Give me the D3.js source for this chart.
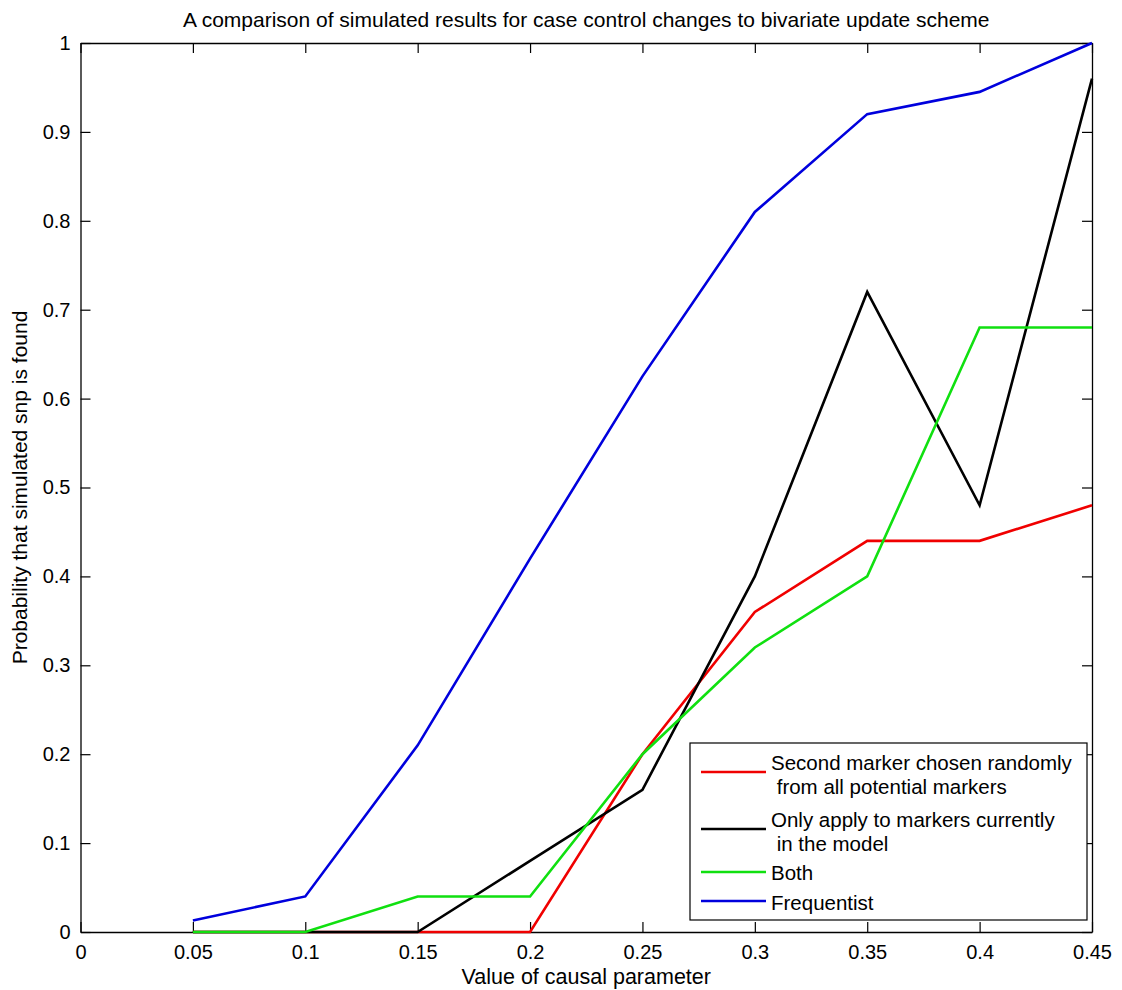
<!DOCTYPE html>
<html>
<head>
<meta charset="utf-8">
<script src="https://cdn.jsdelivr.net/npm/d3@7"></script>
<style>
  html, body { margin: 0; padding: 0; background: #fff; }
  svg { display: block; }
  text { font-family: "Liberation Sans", Arial, Helvetica, sans-serif; fill: #000; }
</style>
</head>
<body>
<script>
// Causal parameter values (x) and detection probabilities per method
const xValues = [0.05, 0.1, 0.15, 0.2, 0.25, 0.3, 0.35, 0.4, 0.45];
const secondMarkerRandom = [0, 0, 0, 0, 0.2, 0.36, 0.44, 0.44, 0.48];
const onlyCurrentMarkers = [0, 0, 0, 0.08, 0.16, 0.4, 0.72, 0.48, 0.96];
const bothChanges = [0, 0, 0.04, 0.04, 0.2, 0.32, 0.4, 0.68, 0.68];
const frequentist = [0.013, 0.04, 0.21, 0.42, 0.625, 0.81, 0.92, 0.945, 1.0];

const seriesNames = [
  ["Second marker chosen randomly", " from all potential markers"],
  ["Only apply to markers currently", " in the model"],
  ["Both"],
  ["Frequentist"]
];
const seriesColors = ["#f00000", "#000000", "#10e010", "#0000dd"];
const seriesValues = [secondMarkerRandom, onlyCurrentMarkers, bothChanges, frequentist];

const xTicks = [0, 0.05, 0.1, 0.15, 0.2, 0.25, 0.3, 0.35, 0.4, 0.45];
const yTicks = [0, 0.1, 0.2, 0.3, 0.4, 0.5, 0.6, 0.7, 0.8, 0.9, 1];

const titleText = "A comparison of simulated results for case control changes to bivariate update scheme";
const xLabelText = "Value of causal parameter";
const yLabelText = "Probability that simulated snp is found";

const W = 1122, H = 990;
const plot = { left: 80.5, right: 1092, top: 43, bottom: 932 };

const svg = d3.select("body").append("svg").attr("width", W).attr("height", H);

const x = d3.scaleLinear().domain([0, 0.45]).range([plot.left, plot.right]);
const y = d3.scaleLinear().domain([0, 1]).range([plot.bottom, plot.top]);

const fmt = d => String(+d.toFixed(2));

// Axes: inward ticks on all four sides, boxed
const tickLen = 10;
const gx = svg.append("g").attr("transform", `translate(0,${plot.bottom})`)
  .call(d3.axisBottom(x).tickValues(xTicks).tickFormat(fmt).tickSizeInner(-tickLen).tickSizeOuter(0).tickPadding(13));
const gxTop = svg.append("g").attr("transform", `translate(0,${plot.top})`)
  .call(d3.axisTop(x).tickValues(xTicks).tickFormat("").tickSizeInner(-tickLen).tickSizeOuter(0));
const gy = svg.append("g").attr("transform", `translate(${plot.left},0)`)
  .call(d3.axisLeft(y).tickValues(yTicks).tickFormat(fmt).tickSizeInner(-tickLen).tickSizeOuter(0).tickPadding(10));
const gyRight = svg.append("g").attr("transform", `translate(${plot.right},0)`)
  .call(d3.axisRight(y).tickValues(yTicks).tickFormat("").tickSizeInner(-tickLen).tickSizeOuter(0));

[gx, gxTop, gy, gyRight].forEach(g => {
  g.select(".domain").attr("stroke", "#000").attr("stroke-width", 1.3);
  g.selectAll(".tick line").attr("stroke", "#000").attr("stroke-width", 1.2);
  g.selectAll(".tick text").attr("font-size", 20).attr("font-family", null).attr("fill", "#111");
});

// Data lines, drawn in legend order so later series sit on top
const line = d3.line().x((d, i) => x(xValues[i])).y(d => y(d));
seriesValues.forEach((vals, k) => {
  svg.append("path")
    .datum(vals)
    .attr("d", line)
    .attr("fill", "none")
    .attr("stroke", seriesColors[k])
    .attr("stroke-width", 2.6)
    .attr("stroke-linejoin", "miter");
});

// Title and axis labels
svg.append("text")
  .attr("x", (plot.left + plot.right) / 2).attr("y", 27)
  .attr("text-anchor", "middle").attr("font-size", 21)
  .text(titleText);
svg.append("text")
  .attr("x", (plot.left + plot.right) / 2).attr("y", 984)
  .attr("text-anchor", "middle").attr("font-size", 21.5)
  .text(xLabelText);
svg.append("text")
  .attr("transform", `translate(27,${(plot.top + plot.bottom) / 2}) rotate(-90)`)
  .attr("text-anchor", "middle").attr("font-size", 21)
  .text(yLabelText);

// Legend box
const legend = { x0: 690, y0: 743, x1: 1087, y1: 920 };
svg.append("rect")
  .attr("x", legend.x0).attr("y", legend.y0)
  .attr("width", legend.x1 - legend.x0).attr("height", legend.y1 - legend.y0)
  .attr("fill", "#fff").attr("stroke", "#000").attr("stroke-width", 1.2);

const legendRows = [
  { lineY: 772, textY: [770, 794] },
  { lineY: 829, textY: [827, 851] },
  { lineY: 872, textY: [880] },
  { lineY: 901, textY: [910] }
];
legendRows.forEach((row, k) => {
  svg.append("line")
    .attr("x1", 701).attr("x2", 766)
    .attr("y1", row.lineY).attr("y2", row.lineY)
    .attr("stroke", seriesColors[k]).attr("stroke-width", 2.6);
  seriesNames[k].forEach((txt, j) => {
    svg.append("text")
      .attr("x", 771).attr("y", row.textY[j])
      .attr("font-size", 20.5)
      .style("white-space", "pre")
      .text(txt);
  });
});
</script>
</body>
</html>
